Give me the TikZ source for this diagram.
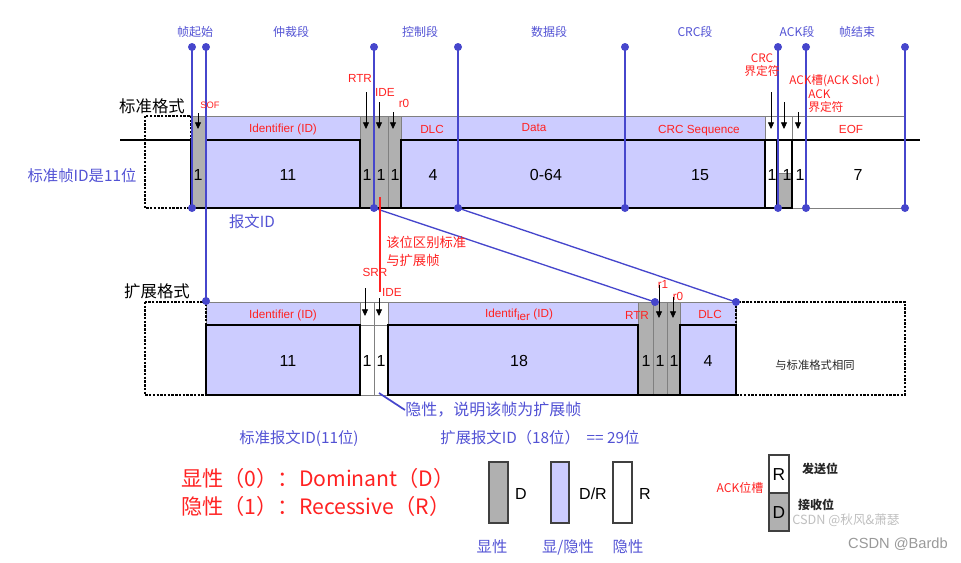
\documentclass[tikz,border=0pt]{standalone}
\usepackage{fontspec}
\setmainfont{Liberation Sans}
\newfontfamily\cjk{Noto Sans CJK SC}
\usetikzlibrary{arrows.meta}
\definecolor{lav}{HTML}{CCCCFF}
\definecolor{gry}{HTML}{B0B0B0}
\definecolor{bl}{HTML}{4646CC}
\definecolor{bltxt}{HTML}{5252D4}
\definecolor{rd}{HTML}{FF2222}
\tikzset{
 redl/.style={text=rd, font=\fontsize{8.8}{9}\selectfont, inner sep=0pt},
 redc/.style={text=rd, font=\cjk\fontsize{8.8}{10}\selectfont, inner sep=0pt, align=center},
 segl/.style={text=bltxt, font=\cjk\fontsize{9}{10}\selectfont, inner sep=0pt},
 bluet/.style={text=bltxt, font=\cjk\fontsize{11.5}{12}\selectfont, inner sep=0pt},
 bitn/.style={font=\fontsize{12}{12}\selectfont, inner sep=0pt},
 bline/.style={draw=bl, line width=1pt},
 thk/.style={line width=2.2pt},
 thn/.style={draw=black!50, line width=0.6pt},
 dbox/.style={draw, line width=1.8pt, dash pattern=on 1.8pt off 1pt},
 tarrow/.style={-{Triangle[width=4.5pt,length=5pt]}, line width=0.6pt},
 bdot/.style={fill=bl},
}
\begin{document}
\begin{tikzpicture}[x=0.75pt,y=-0.75pt]
\useasboundingbox (0,0) rectangle (961,562);

% ================= standard frame =================
\foreach \a/\b in {206/360,401/458,458/625,625/765}{
  \filldraw[fill=lav,thn] (\a,116) rectangle (\b,140);
  \fill[lav] (\a,140) rectangle (\b,208);
}
\draw[thn] (765,116) rectangle (777,140);
\draw[thn] (777,116) rectangle (792,140);
\draw[thn] (792,116) rectangle (806,140);
\draw[thn] (806,116) rectangle (905,208);
\draw[thn] (765,140) rectangle (777,208);
\draw[thn] (792,140) rectangle (806,208);
\foreach \a/\b in {191/206,360/374,374/388,388/401}{
  \filldraw[fill=gry,thn] (\a,116) rectangle (\b,208);
}
\fill[gry] (778,173) rectangle (792,208);
\draw[thn] (778,173) -- (792,173);
\draw[thk] (120,140) -- (191,140) -- (191,208) -- (792,208);
\foreach \a/\b in {206/360,401/458,458/625,625/765,777/792}{
  \draw[thk] (\a,140) rectangle (\b,208);
}
\draw[thk] (765,140) -- (920,140);
\draw[dbox] (145,116) rectangle (191,208);

% ================= extended frame =================
\foreach \a/\b in {206/360,388/638,680/736}{
  \filldraw[fill=lav,thn] (\a,302) rectangle (\b,325);
  \fill[lav] (\a,325) rectangle (\b,395);
}
\draw[thn] (360,302) rectangle (374,325);
\draw[thn] (374,302) rectangle (388,325);
\draw[thn] (360,325) rectangle (374,395);
\draw[thn] (374,325) rectangle (388,395);
\foreach \a/\b in {638/653,653/667,667/680}{
  \filldraw[fill=gry,thn] (\a,302) rectangle (\b,395);
}
\foreach \a/\b in {206/360,388/638,680/736}{
  \draw[thk] (\a,325) rectangle (\b,395);
}
\draw[thk] (638,395) -- (680,395);
\draw[dbox] (145,302) rectangle (206,395);
\draw[dbox] (736,302) rectangle (905,395);

% ================= blue segment markers =================
\foreach \x/\n in {192/a,374/c,458/d,625/e,778/f,806/g,905/h}{
  \coordinate (t\n) at (\x,47);
  \coordinate (b\n) at (\x,208);
  \draw[bline] (t\n) -- (b\n);
  \fill[bdot] (t\n) circle[radius=3pt];
  \fill[bdot] (b\n) circle[radius=3pt];
}
\coordinate (tb) at (206,47);
\coordinate (xa) at (206,301);
\coordinate (xc) at (655,302);
\coordinate (xd) at (736,302);
\draw[bline] (tb) -- (xa);
\fill[bdot] (tb) circle[radius=3pt];
\fill[bdot] (xa) circle[radius=3pt];
\draw[bline] (bc) -- (xc);
\draw[bline] (bd) -- (xd);
\fill[bdot] (xc) circle[radius=3pt];
\fill[bdot] (xd) circle[radius=3pt];

\node[segl] (s1) at (195,32) {帧起始};
\node[segl] (s2) at (291,32) {仲裁段};
\node[segl] (s3) at (420,32) {控制段};
\node[segl] (s4) at (549,32) {数据段};
\node[segl] (s5) at (695,32) {CRC段};
\node[segl] (s6) at (797,32) {ACK段};
\node[segl] (s7) at (857,32) {帧结束};

% ---------- standard labels ----------
\node[font=\cjk\fontsize{12.3}{14}\selectfont, inner sep=0pt] (stdt) at (152,106) {标准格式};
\node[bluet] (stdid) at (82,176) {标准帧ID是11位};
\node[bluet] (bwid) at (252,222) {报文ID};

\node[redl, font=\fontsize{7}{8}\selectfont] (sof) at (210,105) {SOF};
\node[redl] (rtr) at (360,78) {RTR};
\node[redl] (ide) at (385,92) {IDE};
\node[redl] (r0) at (404,103) {r0};
\node[redl] (idl) at (283,129) {Identifier (ID)};
\node[redl] (dlc) at (432,129) {DLC};
\node[redl] (dat) at (534,128) {Data};
\node[redl] (crcs) at (699,131) {CRC Sequence};
\node[redc] (crcd) at (762,65) {CRC\\界定符};
\node[redc, anchor=west] (ackslot) at (789,81) {ACK槽(ACK Slot )};
\node[redc, anchor=west, align=left] (ackd) at (808,101) {ACK\\界定符};
\node[redl] (eof) at (851,129) {EOF};

\draw[tarrow] (198,113) -- (198,129);
\draw[tarrow] (366,92) -- (366,129);
\draw[tarrow] (379,102) -- (379,129);
\draw[tarrow] (393,112) -- (393,129);
\draw[tarrow] (771,92) -- (771,129);
\draw[tarrow] (784,102) -- (784,129);
\draw[tarrow] (798,112) -- (798,129);

\node[bitn] (n1) at (198,175) {1};
\node[bitn] (n2) at (288,175) {11};
\node[bitn] (n3) at (367,175) {1};
\node[bitn] (n4) at (381,175) {1};
\node[bitn] (n5) at (395,175) {1};
\node[bitn] (n6) at (433,175) {4};
\node[bitn] (n7) at (546,175) {0-64};
\node[bitn] (n8) at (700,175) {15};
\node[bitn] (n9) at (772,175) {1};
\node[bitn] (n10) at (787,175) {1};
\node[bitn] (n11) at (800,175) {1};
\node[bitn] (n12) at (858,175) {7};

\coordinate (ra) at (380,197);
\coordinate (rb) at (380,292);
\draw[rd, line width=2pt] (ra) -- (rb);
\node[redc, font=\cjk\fontsize{10}{13.5}\selectfont, anchor=west, align=left] (dist) at (386,251) {该位区别标准\\与扩展帧};

% ---------- extended labels ----------
\node[font=\cjk\fontsize{12.3}{14}\selectfont, inner sep=0pt] (extt) at (157,291) {扩展格式};
\node[redl] (eidl) at (283,315) {Identifier (ID)};
\node[redl] (srr) at (375,272) {SRR};
\node[redl] (eide) at (392,292) {IDE};
\node[redl] (eidl2) at (519,315) {Identif\raisebox{-2pt}{ier} (ID)};
\node[redl] (ertr) at (637,315) {RTR};
\node[redl] (er1) at (663,284) {r1};
\node[redl] (er0) at (678,296) {r0};
\node[redl] (edlc) at (710,314) {DLC};
\draw[tarrow] (365,288) -- (365,316);
\draw[tarrow] (379,298) -- (379,316);
\draw[tarrow] (659,285) -- (659,318);
\draw[tarrow] (673,297) -- (673,318);

\node[bitn] (e1) at (288,361) {11};
\node[bitn] (e2) at (367,361) {1};
\node[bitn] (e3) at (381,361) {1};
\node[bitn] (e4) at (519,361) {18};
\node[bitn] (e5) at (646,361) {1};
\node[bitn] (e6) at (660,361) {1};
\node[bitn] (e7) at (674,361) {1};
\node[bitn] (e8) at (708,361) {4};
\node[font=\cjk\fontsize{8.5}{10}\selectfont, inner sep=0pt, text=black!85] (same) at (815,365) {与标准格式相同};

\node[bluet, font=\cjk\fontsize{12}{12}\selectfont, anchor=west] (rec) at (405,410) {隐性，说明该帧为扩展帧};
\coordinate (ra2) at (379,393);
\draw[bl, line width=1.3pt] (ra2) -- (rec.west);

% ---------- bottom ----------
\node[bluet] (sid) at (299,438) {标准报文ID(11位)};
\node[bluet] (xid) at (540,438) {扩展报文ID（18位）\ \ ==\ 29位};
\node[font=\cjk\fontsize{15.9}{17}\selectfont, text=rd, inner sep=0pt, anchor=west] (dom) at (181,478) {显性（0）：Dominant（D）};
\node[font=\cjk\fontsize{15.9}{17}\selectfont, text=rd, inner sep=0pt, anchor=west] (recs) at (181,506) {隐性（1）：Recessive（R）};

\draw[draw=black!75, line width=0.9pt, fill=gry] (489,462) rectangle (508,523);
\draw[draw=black!75, line width=0.9pt, fill=lav] (551,462) rectangle (569,523);
\draw[draw=black!75, line width=0.9pt, fill=white] (613,462) rectangle (632,523);
\node[font=\fontsize{12}{12}\selectfont, inner sep=0pt] (ld) at (521,494) {D};
\node[font=\fontsize{12}{12}\selectfont, inner sep=0pt] (ldr) at (593,494) {D/R};
\node[font=\fontsize{12}{12}\selectfont, inner sep=0pt] (lr) at (645,494) {R};
\node[bluet] (lx1) at (492,547) {显性};
\node[bluet] (lx2) at (568,547) {显/隐性};
\node[bluet] (lx3) at (628,547) {隐性};

\draw[draw=black!75, line width=0.9pt, fill=white] (769,455) rectangle (789,493);
\draw[draw=black!75, line width=0.9pt, fill=gry] (769,493) rectangle (789,531);
\node[font=\fontsize{13}{13}\selectfont, inner sep=0pt] (ar) at (779,475) {R};
\node[font=\fontsize{13}{13}\selectfont, inner sep=0pt] (ad) at (779,513) {D};
\node[redc, font=\cjk\fontsize{9}{10}\selectfont] (ackw) at (740,488) {ACK位槽};
\node[font=\cjk\bfseries\fontsize{9}{10}\selectfont, inner sep=0pt, text=black!85] (send) at (820,469) {发送位};
\node[font=\cjk\bfseries\fontsize{9}{10}\selectfont, inner sep=0pt, text=black!85] (recv) at (816,505) {接收位};

\node[font=\cjk\fontsize{9.5}{10}\selectfont, inner sep=0pt, text=black!25] (wm1) at (846,520) {CSDN @秋风\&萧瑟};
\node[font=\fontsize{11}{12}\selectfont, inner sep=0pt, text=black!40] (wm2) at (898,544) {CSDN @Bardb};
\end{tikzpicture}
\end{document}
